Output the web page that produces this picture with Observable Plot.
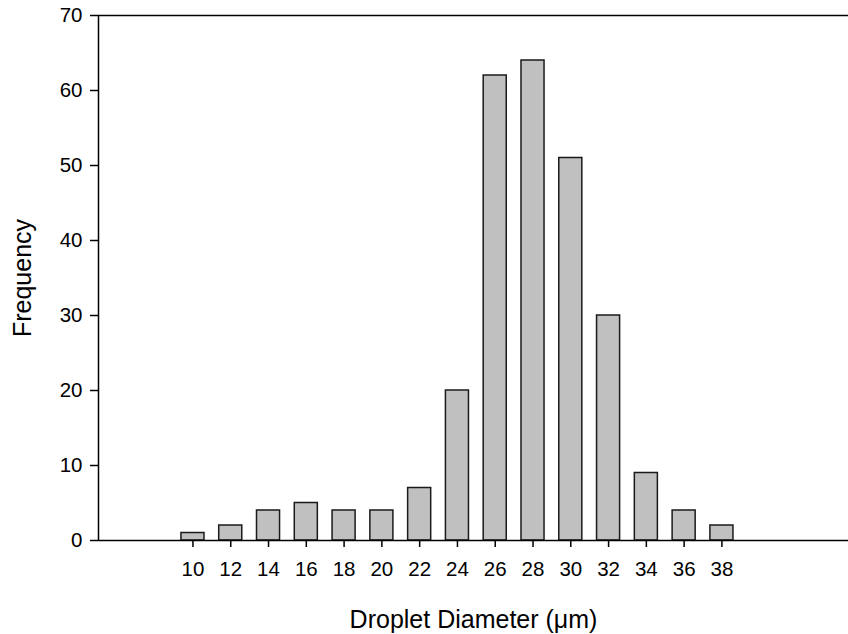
<!DOCTYPE html>
<html>
<head>
<meta charset="utf-8">
<script src="https://cdn.jsdelivr.net/npm/d3@7"></script>
<script src="https://cdn.jsdelivr.net/npm/@observablehq/plot@0.6"></script>
<style>
  html, body { margin: 0; padding: 0; background: #fff; }
</style>
</head>
<body>
<div id="chart"></div>
<script>
const diameters = [10, 12, 14, 16, 18, 20, 22, 24, 26, 28, 30, 32, 34, 36, 38];
const frequency = [1, 2, 4, 5, 4, 4, 7, 20, 62, 64, 51, 30, 9, 4, 2];
const yTicks = [0, 10, 20, 30, 40, 50, 60, 70];
const xTicks = [10, 12, 14, 16, 18, 20, 22, 24, 26, 28, 30, 32, 34, 36, 38];
const xLabel = "Droplet Diameter (\u03BCm)";
const yLabel = "Frequency";

const data = diameters.map((d, i) => ({ x: d, f: frequency[i] }));
const xDomain = [5, 44.7];
const halfBar = 0.61;

const chart = Plot.plot({
  width: 848,
  height: 634,
  marginLeft: 98,
  marginRight: 0,
  marginTop: 15,
  marginBottom: 94,
  style: { fontFamily: "'Liberation Sans', Arial, sans-serif", background: "#fff", color: "#000" },
  x: { domain: xDomain },
  y: { domain: [0, 70] },
  marks: [
    Plot.rectY(data, {
      x1: d => d.x - halfBar,
      x2: d => d.x + halfBar,
      y: "f",
      fill: "#c0c0c0",
      stroke: "#1a1a1a",
      strokeWidth: 1.5
    }),
    Plot.ruleY([0, 70], { stroke: "#000", strokeWidth: 1.5 }),
    Plot.ruleX([xDomain[0]], { stroke: "#000", strokeWidth: 1.5 }),
    Plot.axisY(yTicks, { tickSize: 8, tickPadding: 8, fontSize: 20.5, label: null, strokeWidth: 1.5 }),
    Plot.axisX(xTicks, { tickSize: 7, tickPadding: 14, fontSize: 20.5, label: null, strokeWidth: 1.5 }),
    Plot.text([yLabel], { frameAnchor: "left", rotate: -90, dx: -76, fontSize: 25, textAnchor: "middle", lineAnchor: "middle" }),
    Plot.text([xLabel], { frameAnchor: "bottom", dy: 79, fontSize: 25, textAnchor: "middle", lineAnchor: "middle" })
  ]
});
document.getElementById("chart").appendChild(chart);
</script>
</body>
</html>
